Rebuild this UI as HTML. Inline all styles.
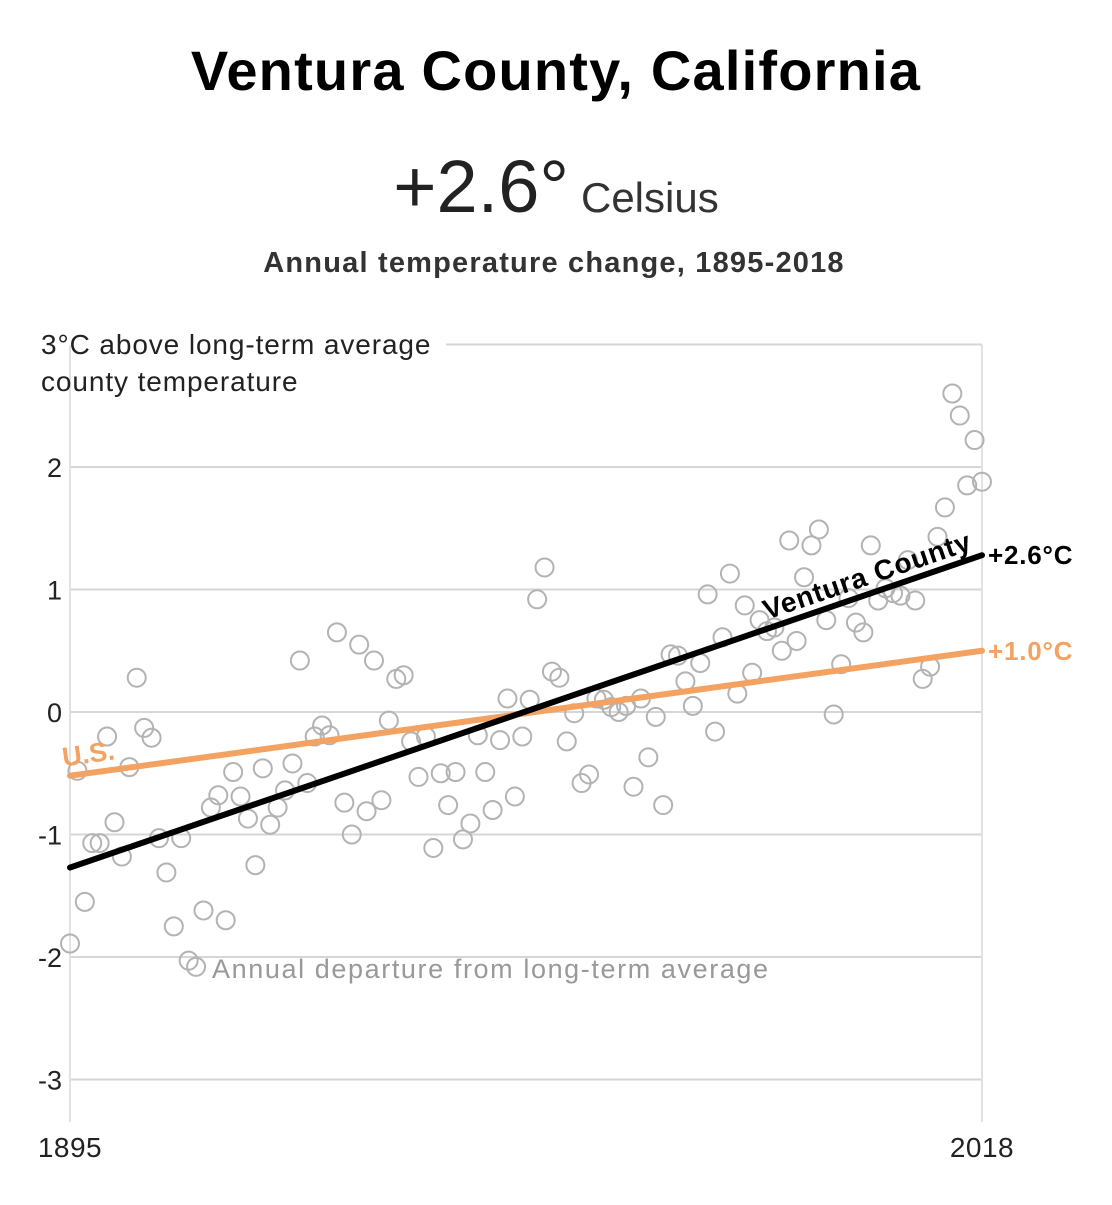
<!DOCTYPE html>
<html><head><meta charset="utf-8"><style>
body{margin:0;background:#fff;width:1112px;height:1200px;overflow:hidden;font-family:"Liberation Sans",sans-serif}
</style></head><body>
<svg width="1112" height="1200" xmlns="http://www.w3.org/2000/svg" font-family="Liberation Sans, sans-serif">
<text x="556" y="90" text-anchor="middle" font-size="56" font-weight="bold" letter-spacing="1.2" fill="#000">Ventura County, California</text>
<text x="556" y="212" text-anchor="middle"><tspan font-size="74" fill="#222">+2.6°</tspan><tspan font-size="42" fill="#333" dx="12">Celsius</tspan></text>
<text x="554" y="272" text-anchor="middle" font-size="29" font-weight="bold" letter-spacing="1.2" fill="#333">Annual temperature change, 1895-2018</text>
<g id="grid"></g>
<g id="marks"></g>
<text x="41" y="354" font-size="28" letter-spacing="0.9" fill="#222">3°C above long-term average</text>
<text x="41" y="391" font-size="28" letter-spacing="0.9" fill="#222">county temperature</text>
<text x="212" y="978" font-size="27" letter-spacing="1.6" fill="#999">Annual departure from long-term average</text>
</svg>
<script>
const years=[];for(let y=1895;y<=2018;y++)years.push(y);
const values=[-1.89,-0.48,-1.55,-1.07,-1.07,-0.2,-0.9,-1.18,-0.45,0.28,-0.13,-0.21,-1.03,-1.31,-1.75,-1.03,-2.03,-2.08,-1.62,-0.78,-0.68,-1.7,-0.49,-0.69,-0.87,-1.25,-0.46,-0.92,-0.78,-0.64,-0.42,0.42,-0.58,-0.2,-0.11,-0.19,0.65,-0.74,-1.0,0.55,-0.81,0.42,-0.72,-0.07,0.27,0.3,-0.24,-0.53,-0.2,-1.11,-0.5,-0.76,-0.49,-1.04,-0.91,-0.19,-0.49,-0.8,-0.23,0.11,-0.69,-0.2,0.1,0.92,1.18,0.33,0.28,-0.24,-0.01,-0.58,-0.51,0.11,0.1,0.04,0.0,0.05,-0.61,0.11,-0.37,-0.04,-0.76,0.47,0.46,0.25,0.05,0.4,0.96,-0.16,0.61,1.13,0.15,0.87,0.32,0.75,0.66,0.69,0.5,1.4,0.58,1.1,1.36,1.49,0.75,-0.02,0.39,0.93,0.73,0.65,1.36,0.91,1.01,0.97,0.95,1.24,0.91,0.27,0.37,1.43,1.67,2.6,2.42,1.85,2.22,1.88];
const countyTrend=[-1.27,1.28];
const usTrend=[-0.52,0.5];
const yTicks=[3,2,1,0,-1,-2,-3];
const yTickLabels=["","2","1","0","-1","-2","-3"];
const xTicks=[1895,2018];
const NS="http://www.w3.org/2000/svg";
const X=yr=>70+(yr-1895)*(912/123);
const Y=v=>712-v*122.5;
function el(tag,attrs,parent,text){const e=document.createElementNS(NS,tag);for(const k in attrs)e.setAttribute(k,attrs[k]);if(text!=null)e.textContent=text;parent.appendChild(e);return e;}
const grid=document.getElementById('grid'),marks=document.getElementById('marks');
yTicks.forEach((t,i)=>{
 const l=el('line',{x1:t===3?446:70,x2:982,y1:Y(t),y2:Y(t),stroke:'#d6d6d6','stroke-width':2},grid);
 
 
 if(yTickLabels[i]){const tx=el('text',{x:62,y:Y(t)+10,'text-anchor':'end','font-size':27,fill:'#222'},grid,yTickLabels[i]);
 
 }
});
xTicks.forEach(t=>{
 const l=el('line',{x1:X(t),x2:X(t),y1:345,y2:1122,stroke:'#e2e2e2','stroke-width':2},grid);
 
 
 const tx=el('text',{x:X(t),y:1157,'text-anchor':'middle','font-size':28,'letter-spacing':0.5,fill:'#222'},grid,String(t));
 
 
});
years.forEach((yr,i)=>{
 const c=el('circle',{cx:X(yr),cy:Y(values[i]),r:9,fill:'none',stroke:'#b3b3b3','stroke-width':2},marks);
 
 
});
const us=el('line',{x1:X(1895),y1:Y(usTrend[0]),x2:X(2018),y2:Y(usTrend[1]),stroke:'#f4a261','stroke-width':6,'stroke-linecap':'round'},marks);


const vc=el('line',{x1:X(1895),y1:Y(countyTrend[0]),x2:X(2018),y2:Y(countyTrend[1]),stroke:'#000','stroke-width':6,'stroke-linecap':'round'},marks);


const ang=Math.atan2(Y(countyTrend[1])-Y(countyTrend[0]),X(2018)-X(1895))*180/Math.PI;
const lx=X(1989),ly=Y(countyTrend[0]+(countyTrend[1]-countyTrend[0])*(94/123))-9;
const vl=el('text',{x:lx,y:ly,'font-size':28,'font-weight':'bold','letter-spacing':0.8,fill:'#000','text-anchor':'start',transform:`rotate(${ang} ${lx} ${ly})`},marks,'Ventura County');


const ul=el('text',{x:X(1895)-5,y:Y(usTrend[0])-10,'font-size':27,'font-weight':'bold',fill:'#f4a261',transform:`rotate(-8 ${X(1895)} ${Y(usTrend[0])})`},marks,'U.S.');


const ve=el('text',{x:988,y:Y(countyTrend[1])+9,'font-size':26,'font-weight':'bold','letter-spacing':0.8,fill:'#000'},marks,'+2.6°C');


const ue=el('text',{x:988,y:Y(usTrend[1])+9,'font-size':26,'font-weight':'bold','letter-spacing':0.8,fill:'#f4a261'},marks,'+1.0°C');


</script>
</body></html>
